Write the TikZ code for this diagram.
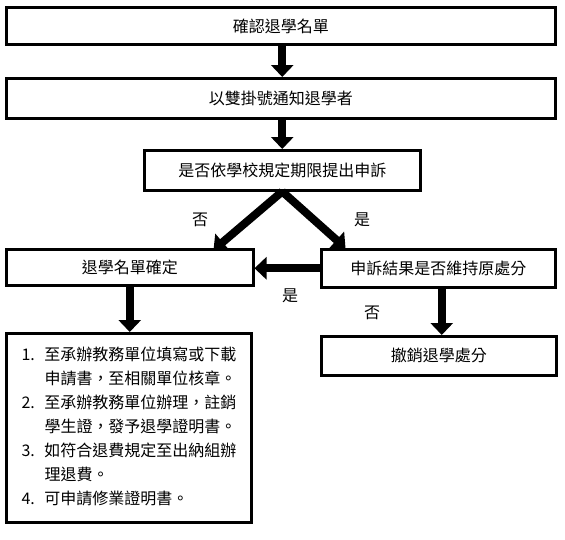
\documentclass[tikz,border=0pt]{standalone}
\usepackage{fontspec}
\newfontfamily\cjk{Noto Sans CJK TC}
\usetikzlibrary{arrows.meta,positioning}
\tikzset{box/.style={draw, line width=3pt, inner sep=0pt, font=\cjk\fontsize{16}{24}\selectfont}, flow/.style={-{Triangle[width=22pt,length=12pt]}, line width=8pt}, lab/.style={font=\cjk\fontsize{16}{24}\selectfont}}
\begin{document}
\begin{tikzpicture}[x=1pt,y=-1pt]
\useasboundingbox (0,0) rectangle (565,539);
\node[box, minimum width=548.5pt, minimum height=37pt] (confirm) at (280.75,26) {確認退學名單};
\node[box, minimum width=548.5pt, minimum height=40pt] (notify) at (280.75,98.5) {以雙掛號通知退學者};
\node[box, minimum width=275.5pt, minimum height=39.5pt] (appeal) at (282.25,170.25) {是否依學校規定期限提出申訴};
\node[box, minimum width=246.5pt, minimum height=35.5pt] (final) at (129.75,267.25) {退學名單確定};
\node[box, minimum width=233.5pt, minimum height=37.5pt] (review) at (438.25,268.25) {申訴結果是否維持原處分};
\node[box, minimum width=234.5pt, minimum height=38.5pt] (revoke) at (438.75,355.75) {撤銷退學處分};
\node[box, minimum width=245pt, minimum height=188.5pt] (steps) at (129,427.75) {\begin{tabular}{@{}p{23pt}@{}l@{}}1. & 至承辦教務單位填寫或下載\\ & 申請書，至相關單位核章。\\ 2. & 至承辦教務單位辦理，註銷\\ & 學生證，發予退學證明書。\\ 3. & 如符合退費規定至出納組辦\\ & 理退費。\\ 4. & 可申請修業證明書。\end{tabular}};
% connectors
\draw[flow] (appeal.north |- confirm.south) -- (appeal.north |- notify.north);
\draw[flow] (appeal.north |- notify.south) -- (appeal.north);
\draw[flow] (appeal.south) -- ([xshift=-41pt,yshift=-2pt]final.north east);
\draw[flow] (appeal.south) -- ([xshift=25.5pt]review.north west);
\draw[flow] (review.west) -- (final.east |- review.west);
\draw[flow] (final.south) -- (final.south |- steps.north);
\draw[flow] ([xshift=3.5pt]review.south) -- ([xshift=3.5pt]review.south |- revoke.north);
% labels
\node[lab] (no1) at (200,220) {否};
\node[lab] (yes1) at (362,220) {是};
\node[lab] (yes2) at (290,296) {是};
\node[lab] (no2) at (372,313) {否};
\end{tikzpicture}
\end{document}
